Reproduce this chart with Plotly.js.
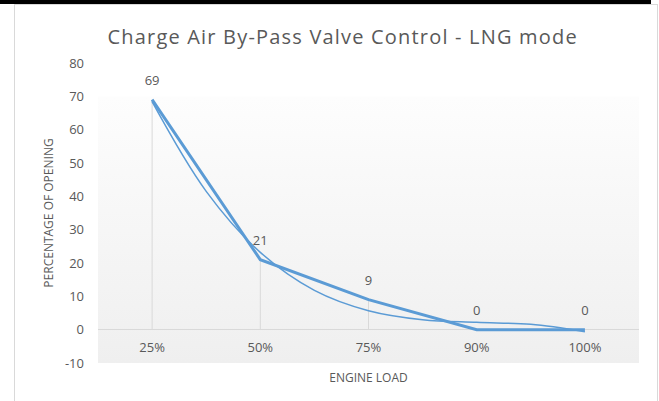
<!DOCTYPE html>
<html>
<head>
<meta charset="utf-8">
<script src="https://cdn.plot.ly/plotly-3.0.1.min.js"></script>
<style>
  html, body { margin: 0; padding: 0; background: #ffffff; }
  #wrap { position: relative; width: 659px; height: 401px; overflow: hidden; }
  #chart { position: absolute; left: 0; top: 0; width: 659px; height: 401px; }
  #topbar { position: absolute; left: 0; top: 0; width: 651px; height: 4px; background: #000; pointer-events: none; }
  #frame { position: absolute; left: 14px; top: 4px; width: 642px; height: 420px; border: 1px solid #d9d9d9; pointer-events: none; }
</style>
</head>
<body>
<div id="wrap">
  <div id="chart"></div>
  <div id="frame"></div>
  <div id="topbar"></div>
</div>
<script>
// ---- data ----
const loadLabels = ['25%', '50%', '75%', '90%', '100%'];
const opening = [69, 21, 9, 0, 0];
// smooth trend line (x in category units, 1 = first category)
const trendX = [1, 1.5, 2, 2.5, 3, 3.5, 4, 4.5, 5];
const trendY = [68.4, 41.5, 23.2, 11.8, 5.7, 3.0, 2.2, 1.6, -0.6];
const yTicks = [-10, 0, 10, 20, 30, 40, 50, 60, 70, 80];
const yTickLabels = ['-10', '0', '10', '20', '30', '40', '50', '60', '70', '80'];

const catX = loadLabels.map((_, i) => i + 1);
const textColor = '#595959';
const blue = '#5B9BD5';
const fontFam = '"Open Sans", sans-serif';
const yRange = [-10, 80];

// drop lines from each point to the axis
const dropX = [], dropY = [];
catX.forEach((x, i) => { dropX.push(x, x, null); dropY.push(opening[i], 0, null); });

const traces = [
  { x: dropX, y: dropY, mode: 'lines', line: { color: '#d9d9d9', width: 1 }, hoverinfo: 'skip', showlegend: false },
  { x: trendX, y: trendY, mode: 'lines', line: { color: blue, width: 1.5, shape: 'spline', smoothing: 1 }, showlegend: false },
  { x: catX, y: opening, mode: 'lines+markers+text', text: opening.map(String), textposition: 'top center',
    textfont: { family: fontFam, size: 13, color: textColor },
    marker: { size: 17, color: 'rgba(0,0,0,0)' },
    line: { color: blue, width: 3 }, showlegend: false }
];

const grad = "<svg xmlns='http://www.w3.org/2000/svg' width='10' height='10' viewBox='0 0 10 10' preserveAspectRatio='none'>" +
  "<defs><linearGradient id='g' x1='0' y1='0' x2='0' y2='1'><stop offset='0' stop-color='#fdfdfd'/><stop offset='1' stop-color='#efefef'/></linearGradient></defs>" +
  "<rect width='10' height='10' fill='url(#g)'/></svg>";

const layout = {
  width: 659, height: 401,
  margin: { l: 98, r: 20, t: 63, b: 38 },
  paper_bgcolor: 'rgba(0,0,0,0)',
  plot_bgcolor: 'rgba(0,0,0,0)',
  font: { family: fontFam, color: textColor, size: 13 },
  title: { text: 'Charge Air By-Pass Valve Control - LNG mode', font: { family: fontFam, size: 20, color: textColor },
           x: 0.52, xanchor: 'center', y: 0.908, yanchor: 'middle' },
  xaxis: {
    range: [0.5, 5.5], tickvals: catX, ticktext: loadLabels,
    anchor: 'free', position: (0 - yRange[0]) / (yRange[1] - yRange[0]),
    showgrid: false, zeroline: false, showline: false, ticks: '',
    ticklabelstandoff: 8,
    tickfont: { family: fontFam, size: 13, color: textColor },
    title: { text: 'ENGINE LOAD', font: { family: fontFam, size: 12, color: textColor }, standoff: 18 },
    fixedrange: true
  },
  yaxis: {
    range: yRange, tickvals: yTicks, ticktext: yTickLabels, showgrid: false,
    zeroline: true, zerolinecolor: '#d9d9d9', zerolinewidth: 1,
    showline: false, ticks: '', ticklabelstandoff: 13,
    tickfont: { family: fontFam, size: 13, color: textColor },
    title: { text: 'PERCENTAGE OF OPENING', font: { family: fontFam, size: 12, color: textColor }, standoff: 8 },
    fixedrange: true
  },
  images: [{
    source: 'data:image/svg+xml;charset=utf-8,' + encodeURIComponent(grad),
    xref: 'paper', yref: 'y', x: 0, y: 70, sizex: 1, sizey: 80,
    xanchor: 'left', yanchor: 'top', sizing: 'stretch', layer: 'below'
  }],
  showlegend: false
};

Plotly.newPlot('chart', traces, layout, { staticPlot: true, displayModeBar: false }).then(gd => {
  // widen the title's letter spacing to match the reference's spaced-out rendering
  const t = gd.querySelector('.gtitle');
  if (t && t.getComputedTextLength) {
    const target = 469;
    const n = t.textContent.length;
    const w = t.getComputedTextLength();
    if (w > 0 && w < target) t.style.letterSpacing = ((target - w) / (n - 1)).toFixed(2) + 'px';
  }
});
</script>
</body>
</html>
